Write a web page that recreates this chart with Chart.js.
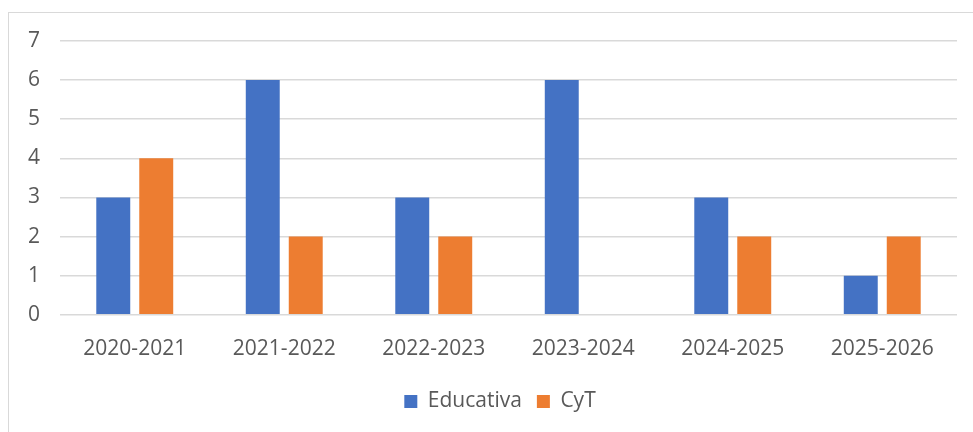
<!DOCTYPE html>
<html>
<head>
<meta charset="utf-8">
<script src="https://cdn.jsdelivr.net/npm/chart.js@4"></script>
<style>
  body { margin: 0; background: #fff; }
  .frame { position: absolute; left: 8px; top: 12px; width: 980px; height: 440px; border: 1px solid #d9d9d9; }
  .wrap { position: absolute; left: 9px; top: 13px; width: 964px; height: 419px; }
</style>
</head>
<body>
<div class="frame"></div>
<div class="wrap"><canvas id="myChart"></canvas></div>
<script>
const years = ["2020-2021", "2021-2022", "2022-2023", "2023-2024", "2024-2025", "2025-2026"];
const educativa = [3, 6, 3, 6, 3, 1];
const cyt = [4, 2, 2, 0, 2, 2];
const yTicks = [0, 1, 2, 3, 4, 5, 6, 7];

const grey = "#595959";
const font = { family: "'Open Sans'", size: 21 };

// legend sits a bit right of centre in the original
const legendShift = {
  id: "legendShift",
  afterLayout(chart) {
    chart.legend.left += 17;
    chart.legend.right += 17;
  }
};

new Chart("myChart", {
  type: "bar",
  data: {
    labels: years,
    datasets: [{
      label: "Educativa",
      data: educativa,
      backgroundColor: "#4472C4",
      categoryPercentage: 0.575,
      barPercentage: 0.79
    }, {
      label: "CyT",
      data: cyt,
      backgroundColor: "#ED7D31",
      categoryPercentage: 0.575,
      barPercentage: 0.79
    }]
  },
  plugins: [legendShift],
  options: {
    responsive: true,
    maintainAspectRatio: false,
    animation: false,
    layout: { padding: { top: 28, right: 16, bottom: 10, left: 0 } },
    plugins: {
      tooltip: { enabled: false },
      legend: {
        position: "bottom",
        labels: {
          color: grey,
          font: font,
          boxWidth: 13,
          boxHeight: 13,
          padding: 15
        }
      }
    },
    scales: {
      x: {
        grid: { display: false },
        border: { display: false },
        ticks: { color: grey, font: font, padding: 14 }
      },
      y: {
        min: 0,
        max: 7,
        afterFit: (s) => { s.width = 51; s.paddingTop = 0; s.paddingBottom = 0; },
        afterBuildTicks: (s) => { s.ticks = yTicks.map(v => ({ value: v })); },
        grid: { color: "#d9d9d9", lineWidth: 1.5, drawTicks: false },
        border: { display: false },
        ticks: { color: grey, font: font, padding: 20 }
      }
    }
  }
});
</script>
</body>
</html>
